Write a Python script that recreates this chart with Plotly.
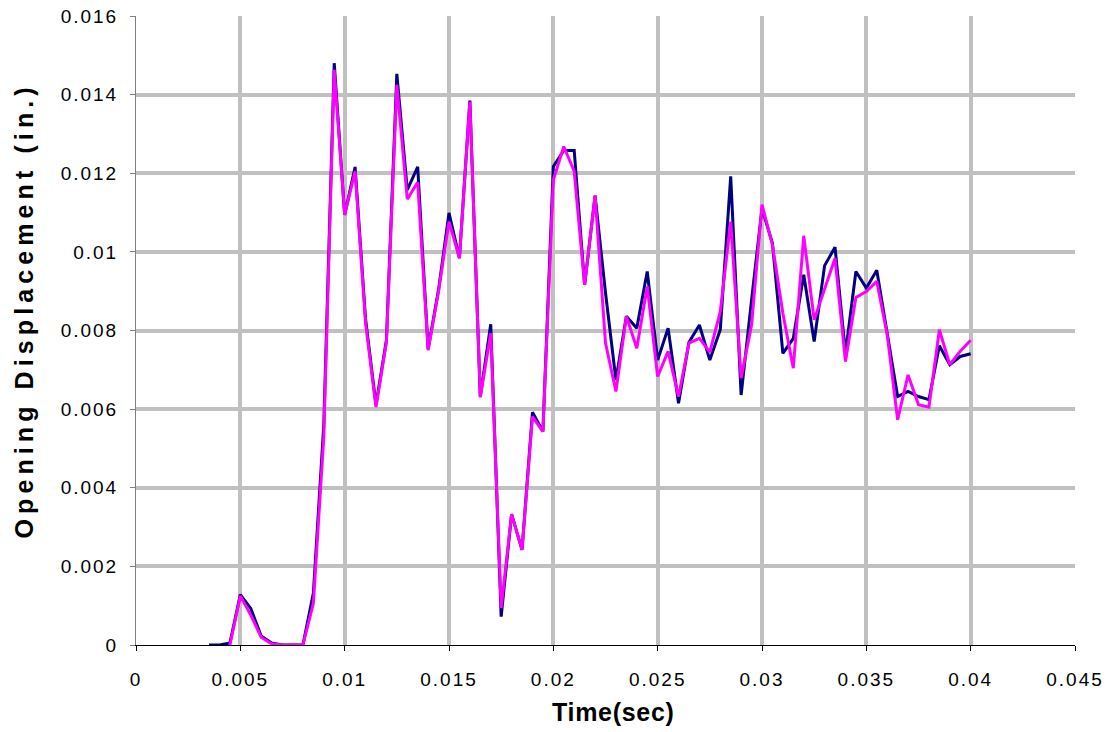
import plotly.graph_objects as go

# Sample times (s)
time_navy = [0.0035, 0.004, 0.0045, 0.005, 0.0055, 0.006, 0.0065, 0.007, 0.0075, 0.008,
             0.0085, 0.009, 0.0095, 0.010, 0.0105, 0.011, 0.0115, 0.012, 0.0125, 0.013,
             0.0135, 0.014, 0.0145, 0.015, 0.0155, 0.016, 0.0165, 0.017, 0.0175, 0.018,
             0.0185, 0.019, 0.0195, 0.020, 0.0205, 0.021, 0.0215, 0.022, 0.0225, 0.023,
             0.0235, 0.024, 0.0245, 0.025, 0.0255, 0.026, 0.0265, 0.027, 0.0275, 0.028,
             0.0285, 0.029, 0.0295, 0.030, 0.0305, 0.031, 0.0315, 0.032, 0.0325, 0.033,
             0.0335, 0.034, 0.0345, 0.035, 0.0355, 0.036, 0.0365, 0.037, 0.0375, 0.038,
             0.0385, 0.039, 0.0395, 0.040]

# Opening displacement (in.), first run
disp_navy = [0.0, 0.0, 0.00005, 0.00128, 0.00093, 0.00023, 0.00005, 0.0, 0.0, 0.0,
             0.00132, 0.0056, 0.0148, 0.01094, 0.01216, 0.0083, 0.00611, 0.00775, 0.01453, 0.01158,
             0.01216, 0.00753, 0.00904, 0.01099, 0.00984, 0.01385, 0.00632, 0.00816, 0.00072, 0.00333,
             0.00242, 0.00592, 0.00543, 0.01217, 0.01258, 0.01258, 0.00916, 0.01143, 0.00896, 0.00674,
             0.00836, 0.00806, 0.0095, 0.00725, 0.00806, 0.00615, 0.0077, 0.00814, 0.00725, 0.00802,
             0.01192, 0.00636, 0.00878, 0.0111, 0.01022, 0.00742, 0.0078, 0.00942, 0.00772, 0.00965,
             0.01012, 0.00742, 0.0095, 0.00908, 0.00953, 0.0079, 0.00632, 0.00645, 0.00632, 0.00624,
             0.00761, 0.00713, 0.00734, 0.00741]

time_pink = time_navy[2:]

# Opening displacement (in.), second run
disp_pink = [0.0, 0.00125, 0.00076, 0.0002, 0.00003, 0.0, 0.0, 0.0,
             0.00106, 0.0053, 0.01463, 0.01094, 0.01205, 0.0082, 0.00605, 0.0077, 0.01425, 0.01134,
             0.01177, 0.0075, 0.009, 0.01077, 0.00984, 0.01382, 0.0063, 0.00793, 0.00094, 0.00333,
             0.00242, 0.00581, 0.00543, 0.01183, 0.01268, 0.01205, 0.00916, 0.01143, 0.00768, 0.00645,
             0.00836, 0.00755, 0.00912, 0.00683, 0.00747, 0.00632, 0.00768, 0.0078, 0.00745, 0.00848,
             0.01077, 0.00679, 0.00814, 0.0112, 0.01018, 0.00844, 0.00704, 0.01041, 0.00827, 0.00903,
             0.00984, 0.00721, 0.00884, 0.00899, 0.00925, 0.0079, 0.00573, 0.00687, 0.00611, 0.00605,
             0.00802, 0.00713, 0.00747, 0.00775]

x_ticks = [0, 0.005, 0.01, 0.015, 0.02, 0.025, 0.03, 0.035, 0.04, 0.045]
x_tick_text = ["0", "0.005", "0.01", "0.015", "0.02", "0.025", "0.03", "0.035", "0.04", "0.045"]
y_ticks = [0, 0.002, 0.004, 0.006, 0.008, 0.01, 0.012, 0.014, 0.016]
y_tick_text = ["0", "0.002", "0.004", "0.006", "0.008", "0.01", "0.012", "0.014", "0.016"]
x_title = "Time(sec)"
y_title = "Opening Displacement (in.)"

GRID = "#C0C0C0"
TICK_FONT = dict(family="Liberation Sans, Arial, sans-serif", size=19, color="#000000")
TITLE_FONT = dict(family="Liberation Sans, Arial, sans-serif", size=25, color="#000000",
                  weight="bold")


def spaced(text, px):
    """Wrap a label in a span with extra letter spacing."""
    return f'<span style="letter-spacing:{px}px">{text}</span>'


fig = go.Figure()
fig.add_trace(go.Scatter(x=time_navy, y=disp_navy, mode="lines",
                         line=dict(color="#000080", width=3), showlegend=False))
fig.add_trace(go.Scatter(x=time_pink, y=disp_pink, mode="lines",
                         line=dict(color="#FF00FF", width=3), showlegend=False))

fig.update_xaxes(range=[0, 0.045], tickvals=x_ticks,
                 ticktext=[spaced(t, 2) for t in x_tick_text],
                 showgrid=True, gridcolor=GRID, gridwidth=4, zeroline=False,
                 showline=True, linecolor="#000000", linewidth=1,
                 ticks="outside", ticklen=5, tickcolor="#000000", ticklabelstandoff=12,
                 tickfont=TICK_FONT, automargin=False)
fig.update_yaxes(range=[0, 0.016], tickvals=y_ticks,
                 ticktext=[spaced(t, 2) for t in y_tick_text],
                 showgrid=True, gridcolor=GRID, gridwidth=4, zeroline=False,
                 showline=True, linecolor="#808080", linewidth=1,
                 ticks="outside", ticklen=5, tickcolor="#808080", ticklabelstandoff=8,
                 tickfont=TICK_FONT, automargin=False)

# Axis titles placed as paper-anchored annotations
fig.add_annotation(text=spaced(x_title, 0.7), font=TITLE_FONT, showarrow=False,
                   xref="paper", yref="paper", x=0.509, y=-0.1065,
                   xanchor="center", yanchor="middle")
fig.add_annotation(text=spaced(y_title, 5.1), font=TITLE_FONT, showarrow=False,
                   textangle=-90, xref="paper", yref="paper", x=-0.1198, y=0.531,
                   xanchor="center", yanchor="middle")

fig.update_layout(width=1113, height=732, margin=dict(l=136, r=38, t=16, b=87),
                  plot_bgcolor="#FFFFFF", paper_bgcolor="#FFFFFF")

fig.write_html("out.html")
